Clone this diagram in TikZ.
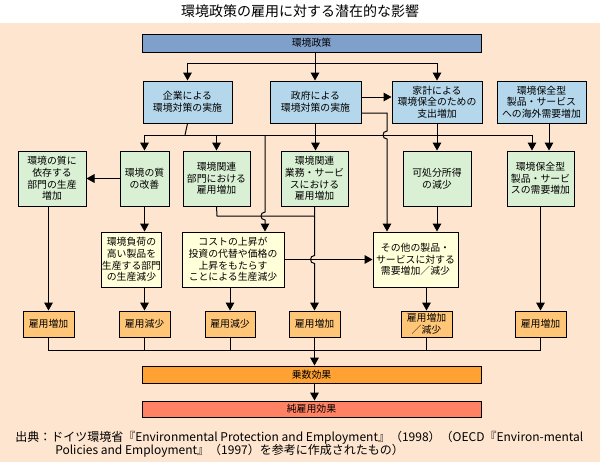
\documentclass[tikz,border=0pt]{standalone}
\usepackage{fontspec}
\setmainfont{Noto Sans CJK JP}
\usetikzlibrary{arrows.meta}
\definecolor{peach}{RGB}{253,229,207}
\definecolor{polblue}{RGB}{128,160,204}
\definecolor{lblue}{RGB}{180,215,235}
\definecolor{lgreen}{RGB}{218,240,212}
\definecolor{lyellow}{RGB}{255,255,217}
\definecolor{lorange}{RGB}{255,198,120}
\definecolor{jousucol}{RGB}{255,162,51}
\definecolor{juncol}{RGB}{255,130,100}
\begin{document}
\begin{tikzpicture}[x=0.75pt,y=-0.75pt,
 bx/.style={draw=black, line width=0.75pt, inner sep=0pt, align=center, font=\fontsize{7.4}{8.8}\selectfont},
 sz/.style 2 args={minimum width=#1*0.75pt, minimum height=#2*0.75pt},
 ln/.style={line width=0.75pt},
 arr/.style={line width=0.75pt, -{Triangle[width=6.5pt,length=6pt]}},
 bluebox/.style={bx, fill=lblue, sz={#1}{42}},
 greenbox/.style={bx, fill=lgreen, sz={#1}{55}},
 yelbox/.style={bx, fill=lyellow, sz={#1}{55}},
 orbox/.style={bx, fill=lorange, sz={#1}{26}},
 src/.style={font=\fontsize{9}{10}\selectfont, inner sep=0pt, anchor=west},
]
\useasboundingbox (0,0) rectangle (600,462);
\fill[peach] (0,23) rectangle (600,462);
\node[font=\fontsize{10.5}{12}\selectfont, inner sep=0pt] (title) at (300,11) {環境政策の雇用に対する潜在的な影響};

% top bar
\node[bx, fill=polblue, sz={339}{18}] (pol) at (311.5,43) {環境政策};

% row 2
\node[bluebox=89] (kigyo) at (187.5,102) {企業による\\環境対策の実施};
\node[bluebox=91] (seifu) at (315.5,102) {政府による\\環境対策の実施};
\node[bluebox=90] (kakei) at (437,102) {家計による\\環境保全のための\\支出増加};
\node[bluebox=89] (kaigai) at (541.5,102) {環境保全型\\製品・サービス\\への海外需要増加};

% row 3
\node[greenbox=68] (izon) at (52,178.5) {環境の質に\\依存する\\部門の生産\\増加};
\node[greenbox=49] (kaizen) at (144.5,178.5) {環境の質\\の改善};
\node[greenbox=67] (kanren) at (216.5,178.5) {環境関連\\部門における\\雇用増加};
\node[greenbox=67] (gyomu) at (314.5,178.5) {環境関連\\業務・サービ\\スにおける\\雇用増加};
\node[greenbox=68] (kasho) at (437,178.5) {可処分所得\\の減少};
\node[greenbox=67] (juyo) at (540.5,178.5) {環境保全型\\製品・サービ\\スの需要増加};

% row 4
\node[yelbox=59] (fuka) at (131.5,259.5) {環境負荷の\\高い製品を\\生産する部門\\の生産減少};
\node[yelbox=102] (cost) at (233,259.5) {コストの上昇が\\投資の代替や価格の\\上昇をもたらす\\ことによる生産減少};
\node[yelbox=85] (sonota) at (415.5,259.5) {その他の製品・\\サービスに対する\\需要増加／減少};

% row 5
\node[orbox=51] (e1) at (48.5,324) {雇用増加};
\node[orbox=51] (e2) at (144.5,324) {雇用減少};
\node[orbox=50] (e3) at (230,324) {雇用減少};
\node[orbox=51] (e4) at (314.5,324) {雇用増加};
\node[orbox=51] (e5) at (426.5,324) {雇用増加\\／減少};
\node[orbox=51] (e6) at (540.5,324) {雇用増加};

% bottom bars
\node[bx, fill=jousucol, sz={339}{17}] (jousu) at (311.5,374.5) {乗数効果};
\node[bx, fill=juncol, sz={339}{16}] (jun) at (311.5,409) {純雇用効果};

% source
\node[src] (s1) at (15,438) {出典：ドイツ環境省『Environmental Protection and Employment』（1998）（OECD『Environ-mental};
\node[src] (s2) at (55,451) {Policies and Employment』（1997）を参考に作成されたもの）};

% coordinates
\coordinate (j0) at (315,63);
\coordinate (j1) at (185,135);
\coordinate (jc) at (265,135);
\coordinate (jr) at (532,135);
\coordinate (ka) at (549,123);
\coordinate (s97) at (361,97);
\coordinate (s113) at (361,113);
\coordinate (g1) at (387,113);
\coordinate (k1) at (217,216);
\coordinate (jb) at (315,350);

% policy to row 2
\draw[ln] (j0 |- pol.south) -- (j0);
\draw[arr] (j0) -| (kigyo.north);
\draw[arr] (j0) -- (j0 |- seifu.north);
\draw[arr] (j0) -| (kakei.north);

% seifu connections
\draw[arr] (s97) -- (s97 -| kakei.west);
\draw[arr] (s113) -- (g1) -- (387,131) .. controls (381.7,131) and (381.7,139) .. (387,139) -- (g1 |- sonota.north);
\draw[arr] (seifu.south) -- (seifu.south |- gyomu.north);

% kigyo horizontal
\draw[ln] (kigyo.south) -- (j1);
\draw[arr] (j1) -| (kaizen.north);
\draw[arr] (j1) -| (kanren.north);
\draw[arr] (j1) -- (jr) -- (jr |- juyo.north);
\draw[arr] (jc) -- (265,212) .. controls (259.7,212) and (259.7,220) .. (265,220) -- (jc |- cost.north);

% kakei / kaigai
\draw[arr] (kakei.south) -- (kasho.north);
\draw[arr] (ka) -- (ka |- juyo.north);

% row 3 to row 4/5
\draw[arr] (kaizen.west) -- (izon.east);
\draw[arr] (kaizen.south) -- (kaizen.south |- fuka.north);
\draw[arr] (e1.north |- izon.south) -- (e1.north);
\draw[ln] (kanren.south) -- (k1) -- (k1 -| gyomu.south);
\draw[arr] (gyomu.south) -- (314.5,255.5) .. controls (309.2,255.5) and (309.2,263.5) .. (314.5,263.5) -- (e4.north);
\draw[arr] (kasho.south) -- (kasho.south |- sonota.north);
\draw[arr] (juyo.south) -- (e6.north);

% row 4 to row 5
\draw[arr] (e2.north |- fuka.south) -- (e2.north);
\draw[arr] (e3.north |- cost.south) -- (e3.north);
\draw[arr] (cost.east) -- (sonota.west);
\draw[arr] (e5.north |- sonota.south) -- (e5.north);

% row 5 to multiplier
\draw[ln] (e1.south) -- (e1.south |- jb) -- (e6.south |- jb) -- (e6.south);
\draw[ln] (e2.south) -- (e2.south |- jb);
\draw[ln] (e3.south) -- (e3.south |- jb);
\draw[ln] (e5.south) -- (e5.south |- jb);
\draw[arr] (e4.south) -- (e4.south |- jousu.north);
\draw[arr] (e4.south |- jousu.south) -- (e4.south |- jun.north);
\end{tikzpicture}
\end{document}
